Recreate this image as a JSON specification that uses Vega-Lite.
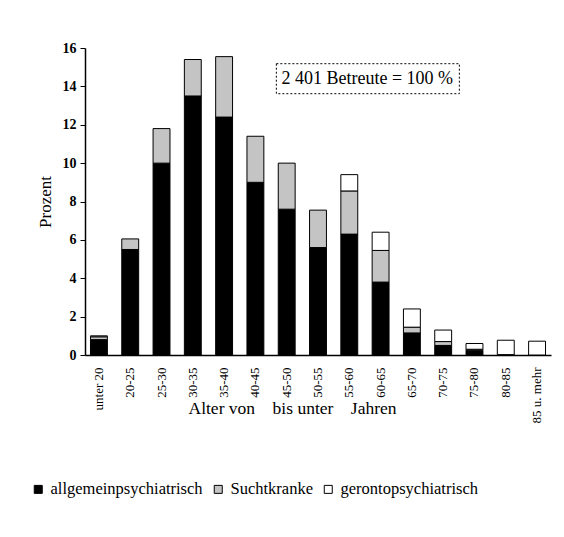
{
  "$schema": "https://vega.github.io/schema/vega-lite/v6.json",
  "autosize": "none",
  "width": 466,
  "height": 307,
  "padding": {"left": 85, "top": 48, "right": 13, "bottom": 182},
  "background": "white",
  "config": {
    "font": "Liberation Serif",
    "view": {"stroke": null},
    "axis": {"labelFont": "Liberation Serif", "titleFont": "Liberation Serif", "labelColor": "black", "titleColor": "black", "domainColor": "black", "tickColor": "black", "grid": false, "titleFontWeight": "normal", "domainWidth": 1.5},
    "axisY": {"labelFontSize": 14, "labelFontWeight": "bold", "tickSize": 5, "labelPadding": 4, "titleFontSize": 17, "titlePadding": 8},
    "axisX": {"labelFontSize": 13, "labelAngle": -90, "labelPadding": 12, "ticks": false, "titleFontSize": 17.5},
    "legend": {"labelFont": "Liberation Serif", "labelColor": "black"}
  },
  "datasets": {
    "bars": [
      {"age": "unter 20", "group": "allgemeinpsychiatrisch", "pct": 0.8},
      {"age": "unter 20", "group": "Suchtkranke", "pct": 0.15},
      {"age": "unter 20", "group": "gerontopsychiatrisch", "pct": 0.05},
      {"age": "20-25", "group": "allgemeinpsychiatrisch", "pct": 5.5},
      {"age": "20-25", "group": "Suchtkranke", "pct": 0.55},
      {"age": "25-30", "group": "allgemeinpsychiatrisch", "pct": 10.0},
      {"age": "25-30", "group": "Suchtkranke", "pct": 1.8},
      {"age": "30-35", "group": "allgemeinpsychiatrisch", "pct": 13.5},
      {"age": "30-35", "group": "Suchtkranke", "pct": 1.9},
      {"age": "35-40", "group": "allgemeinpsychiatrisch", "pct": 12.4},
      {"age": "35-40", "group": "Suchtkranke", "pct": 3.15},
      {"age": "40-45", "group": "allgemeinpsychiatrisch", "pct": 9.0},
      {"age": "40-45", "group": "Suchtkranke", "pct": 2.4},
      {"age": "45-50", "group": "allgemeinpsychiatrisch", "pct": 7.6},
      {"age": "45-50", "group": "Suchtkranke", "pct": 2.4},
      {"age": "50-55", "group": "allgemeinpsychiatrisch", "pct": 5.6},
      {"age": "50-55", "group": "Suchtkranke", "pct": 1.95},
      {"age": "55-60", "group": "allgemeinpsychiatrisch", "pct": 6.3},
      {"age": "55-60", "group": "Suchtkranke", "pct": 2.25},
      {"age": "55-60", "group": "gerontopsychiatrisch", "pct": 0.85},
      {"age": "60-65", "group": "allgemeinpsychiatrisch", "pct": 3.8},
      {"age": "60-65", "group": "Suchtkranke", "pct": 1.65},
      {"age": "60-65", "group": "gerontopsychiatrisch", "pct": 0.95},
      {"age": "65-70", "group": "allgemeinpsychiatrisch", "pct": 1.15},
      {"age": "65-70", "group": "Suchtkranke", "pct": 0.3},
      {"age": "65-70", "group": "gerontopsychiatrisch", "pct": 0.95},
      {"age": "70-75", "group": "allgemeinpsychiatrisch", "pct": 0.5},
      {"age": "70-75", "group": "Suchtkranke", "pct": 0.2},
      {"age": "70-75", "group": "gerontopsychiatrisch", "pct": 0.6},
      {"age": "75-80", "group": "allgemeinpsychiatrisch", "pct": 0.25},
      {"age": "75-80", "group": "Suchtkranke", "pct": 0.05},
      {"age": "75-80", "group": "gerontopsychiatrisch", "pct": 0.3},
      {"age": "80-85", "group": "allgemeinpsychiatrisch", "pct": 0.02},
      {"age": "80-85", "group": "gerontopsychiatrisch", "pct": 0.75},
      {"age": "85 u. mehr", "group": "gerontopsychiatrisch", "pct": 0.72}
    ]
  },
  "layer": [
    {
      "data": {"name": "bars"},
      "transform": [
        {"calculate": "indexof(['allgemeinpsychiatrisch','Suchtkranke','gerontopsychiatrisch'], datum.group)", "as": "stackOrder"}
      ],
      "mark": {"type": "bar", "stroke": "black", "strokeWidth": 1},
      "encoding": {
        "x": {
          "field": "age", "type": "nominal", "sort": null,
          "scale": {"paddingInner": 0.46, "paddingOuter": 0.175},
          "axis": {
            "title": "Alter von\u00a0\u00a0\u00a0 bis unter\u00a0\u00a0\u00a0 Jahren",
            "titleX": 207, "titleY": 53, "titleAlign": "center", "titleBaseline": "middle"
          }
        },
        "y": {
          "field": "pct", "type": "quantitative", "stack": "zero",
          "scale": {"domain": [0, 16], "nice": false},
          "axis": {"title": "Prozent", "values": [0, 2, 4, 6, 8, 10, 12, 14, 16], "labelOverlap": false}
        },
        "order": {"field": "stackOrder", "type": "quantitative", "sort": "ascending"},
        "color": {
          "field": "group", "type": "nominal",
          "sort": ["allgemeinpsychiatrisch", "Suchtkranke", "gerontopsychiatrisch"],
          "scale": {"domain": ["allgemeinpsychiatrisch", "Suchtkranke", "gerontopsychiatrisch"], "range": ["#000000", "#c4c4c4", "#ffffff"]},
          "legend": {
            "title": null, "orient": "none", "direction": "horizontal",
            "legendX": -55, "legendY": 433,
            "symbolType": "square", "symbolSize": 64, "symbolStrokeColor": "black", "symbolStrokeWidth": 1,
            "labelFontSize": 16.5, "symbolOpacity": 1, "columnPadding": 7, "labelOffset": 4
          }
        }
      }
    },
    {
      "data": {"values": [{}]},
      "mark": {"type": "point", "shape": "M-1,-0.164H1V0.164H-1Z", "size": 33489, "filled": false, "stroke": "black", "strokeWidth": 1, "strokeDash": [2, 2], "opacity": 1},
      "encoding": {
        "x": {"datum": "55-60"},
        "xOffset": {"value": 27},
        "y": {"datum": 14.4, "axis": {"title": "Prozent", "values": [0, 2, 4, 6, 8, 10, 12, 14, 16], "labelOverlap": false}}
      }
    },
    {
      "data": {"values": [{}]},
      "mark": {"type": "text", "text": "2 401 Betreute = 100 %", "fontSize": 18, "font": "Liberation Serif", "color": "black", "dx": 18, "align": "center", "baseline": "middle"},
      "encoding": {
        "x": {"datum": "55-60"},
        "y": {"datum": 14.4, "axis": {"title": "Prozent", "values": [0, 2, 4, 6, 8, 10, 12, 14, 16], "labelOverlap": false}}
      }
    }
  ]
}
